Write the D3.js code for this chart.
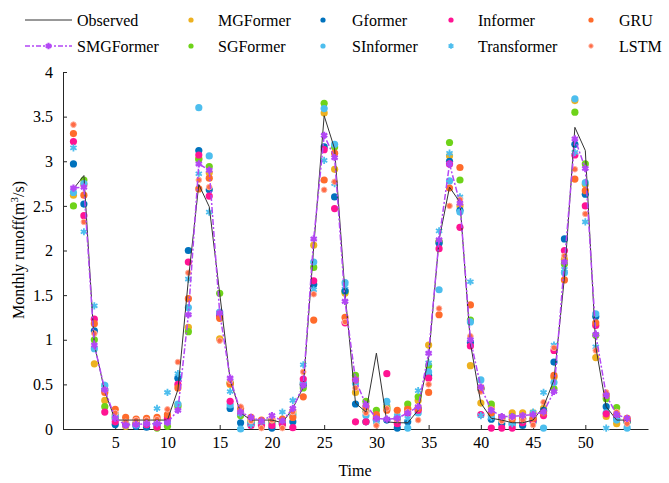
<!DOCTYPE html>
<html><head><meta charset="utf-8">
<script src="https://cdn.jsdelivr.net/npm/d3@7"></script>
<style>body{margin:0;background:#fff}svg{display:block;font-family:"Liberation Serif","Times New Roman",serif}</style>
</head><body>
<svg id="c" width="669" height="483"></svg>
<script>
const time = d3.range(1, 55);
const observed = [2.69,2.84,0.95,0.42,0.10,0.10,0.10,0.10,0.10,0.10,0.44,1.67,2.74,2.49,1.52,0.55,0.18,0.10,0.10,0.10,0.07,0.23,0.47,2.04,3.51,3.14,1.52,0.29,0.19,0.85,0.08,0.07,0.07,0.21,0.80,2.12,2.71,2.54,0.96,0.29,0.12,0.10,0.07,0.07,0.10,0.25,0.55,1.70,3.38,3.12,0.92,0.25,0.10,0.10];
const smgformer = [2.70,2.71,0.94,0.44,0.12,0.045,0.05,0.06,0.06,0.07,0.21,1.28,2.97,2.90,1.30,0.57,0.19,0.13,0.09,0.15,0.09,0.23,0.49,2.13,3.29,3.04,1.43,0.55,0.27,0.12,0.11,0.12,0.18,0.25,0.85,2.12,2.97,2.53,1.00,0.47,0.21,0.14,0.14,0.15,0.16,0.19,0.42,1.87,3.25,2.92,1.06,0.38,0.16,0.12];
const mgformer = [2.62,2.74,0.73,0.32,0.16,0.03,0.06,0.08,0.10,0.14,0.27,1.14,3.03,2.87,1.01,0.50,0.16,0.10,0.07,0.08,0.06,0.20,0.50,2.06,3.54,2.91,1.52,0.41,0.20,0.14,0.25,0.11,0.23,0.32,0.94,2.10,3.06,2.50,0.71,0.29,0.25,0.10,0.18,0.18,0.18,0.23,0.58,1.90,3.68,2.74,0.80,0.14,0.06,0.10];
const gformer = [2.97,2.52,1.10,0.44,0.05,0.06,0.03,0.02,0.045,0.10,0.57,2.00,3.12,2.68,1.28,0.23,0.07,0.06,0.06,0.01,0.06,0.08,0.50,1.62,3.16,2.60,1.55,0.28,0.08,0.10,0.10,0.01,0.08,0.23,0.60,2.08,3.00,2.45,0.97,0.45,0.11,0.06,0.06,0.04,0.08,0.21,0.75,2.13,3.19,2.63,1.26,0.25,0.12,0.08];
const informer = [3.22,2.39,1.23,0.19,0.08,0.05,0.06,0.05,0.02,0.12,0.50,1.87,3.07,2.61,1.26,0.31,0.18,0.04,0.04,0.04,0.05,0.015,0.56,1.66,3.13,2.47,1.19,0.08,0.08,0.12,0.62,0.06,0.18,0.21,0.57,2.02,2.97,2.26,0.93,0.16,0.01,0.01,0.01,0.07,0.10,0.15,0.88,2.00,3.07,2.50,1.16,0.17,0.15,0.10];
const gru = [3.31,2.62,1.18,0.41,0.22,0.13,0.11,0.12,0.13,0.16,0.46,1.46,2.69,2.81,1.24,0.51,0.23,0.13,0.10,0.10,0.11,0.13,0.36,1.22,2.79,3.09,1.25,0.55,0.25,0.16,0.21,0.21,0.22,0.23,0.41,1.28,2.70,2.93,1.39,0.46,0.18,0.13,0.11,0.11,0.12,0.18,0.60,1.67,2.80,2.67,1.19,0.38,0.17,0.12];
const sgformer = [2.50,2.79,1.00,0.25,0.12,0.06,0.07,0.06,0.01,0.03,0.25,1.09,3.02,2.94,1.52,0.52,0.15,0.08,0.07,0.08,0.07,0.17,0.46,1.81,3.65,3.16,1.54,0.60,0.31,0.21,0.23,0.12,0.28,0.36,0.71,2.10,3.21,2.79,1.22,0.45,0.28,0.12,0.14,0.12,0.12,0.20,0.45,1.85,3.55,2.97,1.05,0.34,0.24,0.08];
const sinformer = [2.65,2.75,0.90,0.49,0.14,0.045,0.045,0.05,0.06,0.08,0.28,1.36,3.60,3.06,1.31,0.27,0.00,0.06,0.05,0.06,0.08,0.15,0.52,1.87,3.59,3.19,1.64,0.51,0.15,0.10,0.31,0.13,0.01,0.18,0.64,1.56,2.78,2.43,1.20,0.55,0.15,0.13,0.045,0.08,0.10,0.01,0.52,1.75,3.70,2.76,1.29,0.18,0.10,0.01];
const transformer = [3.15,2.21,1.38,0.49,0.17,0.05,0.06,0.07,0.23,0.41,0.62,1.68,2.86,2.43,1.30,0.42,0.17,0.05,0.08,0.10,0.19,0.32,0.72,1.56,3.01,2.75,1.60,0.56,0.21,0.08,0.29,0.15,0.12,0.43,0.74,2.22,3.09,2.60,1.65,0.15,0.13,0.10,0.06,0.10,0.19,0.41,0.94,1.79,3.10,2.32,0.92,0.01,0.13,0.02];
const lstm = [3.41,2.32,1.07,0.44,0.18,0.08,0.10,0.10,0.11,0.22,0.75,1.75,2.79,2.71,0.99,0.54,0.25,0.09,0.01,0.10,0.01,0.19,0.64,1.51,2.68,2.77,1.20,0.46,0.18,0.04,0.23,0.10,0.19,0.10,0.50,1.35,2.50,2.57,1.04,0.42,0.22,0.09,0.13,0.10,0.045,0.30,0.91,1.94,2.91,2.41,0.88,0.41,0.19,0.06];
const xTicks = [5,10,15,20,25,30,35,40,45,50];
const yTicks = [0,0.5,1,1.5,2,2.5,3,3.5,4];

const dotSeries = [
  {name:"MGFormer", values:mgformer, color:"#EDB120", type:"dot"},
  {name:"SGFormer", values:sgformer, color:"#6ED319", type:"dot"},
  {name:"Gformer", values:gformer, color:"#0072BD", type:"dot"},
  {name:"SInformer", values:sinformer, color:"#4DBEEE", type:"dot"},
  {name:"Informer", values:informer, color:"#FF1493", type:"dot"},
  {name:"Transformer", values:transformer, color:"#4DBEEE", type:"star"},
  {name:"GRU", values:gru, color:"#FF6B2B", type:"dot"},
  {name:"LSTM", values:lstm, color:"#FF6B45", type:"small"}
];

const svg = d3.select("#c");
const x = d3.scaleLinear().domain([0,56]).range([63,648]);
const y = d3.scaleLinear().domain([0,4]).range([429,72]);

// axes
const gx = svg.append("g").attr("transform","translate(0,429)")
  .call(d3.axisBottom(x).tickValues(xTicks).tickSizeInner(-4).tickSizeOuter(0).tickPadding(8).tickFormat(d3.format("d")));
const gy = svg.append("g").attr("transform","translate(63,0)")
  .call(d3.axisLeft(y).tickValues(yTicks).tickSizeInner(-4).tickSizeOuter(0).tickPadding(10).tickFormat(d=>String(d)));
[gx,gy].forEach(g=>{
  g.select(".domain").attr("stroke","#262626").attr("stroke-width",1);
  g.selectAll(".tick line").attr("stroke","#262626");
  g.selectAll("text").attr("font-family","Liberation Serif").attr("font-size",16).attr("fill","#000");
});

// dots
const drawMarker = (g, s, cx, cy, legend) => {
  const r = legend ? 2.6 : 3.6;
  if (s.type === "dot") {
    g.append("circle").attr("cx",cx).attr("cy",cy).attr("r",r).attr("fill",s.color);
  } else if (s.type === "small") {
    g.append("circle").attr("cx",cx).attr("cy",cy).attr("r",legend?2.2:2.8).attr("fill",s.color)
      .attr("stroke","#FFB3A0").attr("stroke-width",1);
  } else if (s.type === "star") {
    g.append("path").attr("transform",`translate(${cx},${cy})`)
      .attr("d",d3.symbol().type(d3.symbolAsterisk).size(legend?22:36)())
      .attr("fill","none").attr("stroke",s.color).attr("stroke-width",1.8);
  }
};
const plot = svg.append("g");
dotSeries.forEach(s=>{
  const g = plot.append("g");
  s.values.forEach((v,i)=>drawMarker(g, s, x(time[i]), y(v), false));
});

// lines
const line = d3.line().x((d,i)=>x(time[i])).y(d=>y(d));
svg.append("path").datum(observed).attr("d",line).attr("fill","none").attr("stroke","#333").attr("stroke-width",1);
svg.append("path").datum(smgformer).attr("d",line).attr("fill","none").attr("stroke","#B347F5")
  .attr("stroke-width",1.5).attr("stroke-dasharray","6,2,2,2");
const smgMarkers = svg.append("g");
smgformer.forEach((v,i)=>{
  smgMarkers.append("path").attr("transform",`translate(${x(time[i])},${y(v)})`)
    .attr("d",d3.symbol().type(d3.symbolAsterisk).size(36)())
    .attr("fill","none").attr("stroke","#B347F5").attr("stroke-width",2.2);
});

// axis titles
svg.append("text").attr("x",355).attr("y",476).attr("text-anchor","middle")
  .attr("font-size",16).text("Time");
const yl = svg.append("text").attr("transform","translate(24,250) rotate(-90)").attr("text-anchor","middle").attr("font-size",16);
yl.append("tspan").text("Monthly runoff(m");
yl.append("tspan").attr("font-size",11).attr("dy",-6).text("3");
yl.append("tspan").attr("dy",6).text("/s)");

// legend
const leg = svg.append("g").attr("font-size",16);
const row1 = 20, row2 = 46;
leg.append("line").attr("x1",25).attr("x2",72).attr("y1",row1).attr("y2",row1).attr("stroke","#333").attr("stroke-width",1);
leg.append("text").attr("x",77).attr("y",row1+5.5).text("Observed");
leg.append("line").attr("x1",25).attr("x2",72).attr("y1",row2).attr("y2",row2).attr("stroke","#B347F5").attr("stroke-width",1.5).attr("stroke-dasharray","5,2,2,2");
leg.append("path").attr("transform",`translate(48.5,${row2})`).attr("d",d3.symbol().type(d3.symbolAsterisk).size(30)()).attr("fill","none").attr("stroke","#B347F5").attr("stroke-width",2.2);
leg.append("text").attr("x",77).attr("y",row2+5.5).text("SMGFormer");
const legPos = [
  {s:"MGFormer", mx:191, tx:218, row:row1},
  {s:"SGFormer", mx:191, tx:218, row:row2},
  {s:"Gformer", mx:323, tx:352, row:row1},
  {s:"SInformer", mx:323, tx:352, row:row2},
  {s:"Informer", mx:451, tx:478, row:row1},
  {s:"Transformer", mx:451, tx:478, row:row2},
  {s:"GRU", mx:591, tx:619, row:row1},
  {s:"LSTM", mx:591, tx:619, row:row2}
];
legPos.forEach(p=>{
  const s = dotSeries.find(d=>d.name===p.s);
  drawMarker(leg, s, p.mx, p.row, true);
  leg.append("text").attr("x",p.tx).attr("y",p.row+5.5).text(s.name);
});
</script>
</body></html>
